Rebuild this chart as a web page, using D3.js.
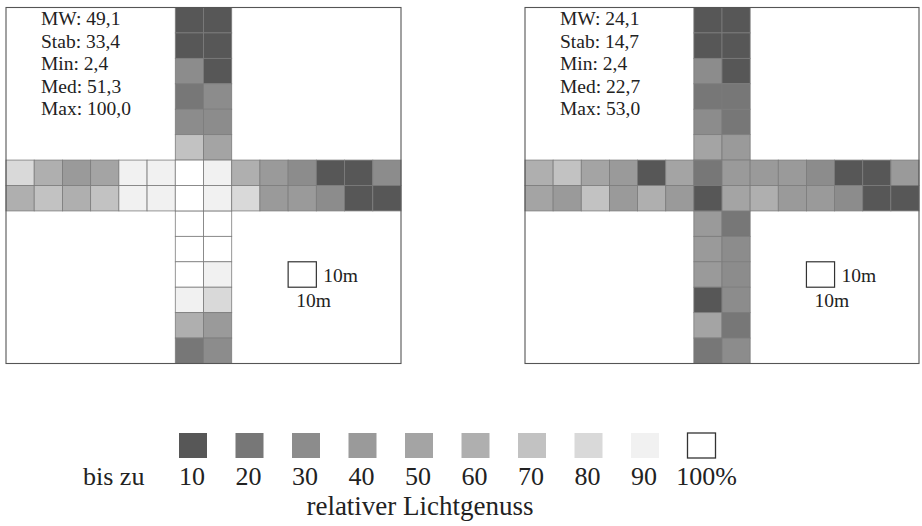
<!DOCTYPE html>
<html><head><meta charset="utf-8">
<script src="https://cdn.jsdelivr.net/npm/d3@7"></script>
<style>
body{margin:0;background:#fff}
svg{display:block}
</style>
</head><body>
<svg id="chart" width="922" height="526"></svg>
<script>
// ---------- data ----------
// rows of the vertical strip (row index in the 14x14 grid), the two middle rows belong to the horizontal strip
const verticalRows = [0, 1, 2, 3, 4, 5, 8, 9, 10, 11, 12, 13];
const stripIndex = [6, 7];
const gridIndex = [0, 1, 2, 3, 4, 5, 6, 7, 8, 9, 10, 11, 12, 13];

// relative light (%) – left plot: vertical strip [column 6, column 7]
const leftVertical = [
  [5, 6], [7, 4], [27, 8], [18, 21], [22, 29], [63, 48],
  [97, 95], [98, 96], [93, 89], [88, 76], [58, 33], [17, 26]
];
// left plot: horizontal strip, two rows of 14 cells
const leftHorizontal = [
  [74, 52, 35, 48, 85, 86, 95, 87, 55, 36, 24, 7, 5, 27],
  [58, 61, 56, 64, 87, 84, 97, 86, 73, 31, 38, 26, 6, 3]
];

// right plot
const rightVertical = [
  [5, 6], [4, 7], [24, 8], [17, 19], [28, 16], [47, 38],
  [36, 18], [39, 27], [37, 29], [6, 28], [46, 19], [16, 25]
];
const rightHorizontal = [
  [58, 64, 46, 36, 6, 44, 18, 33, 38, 35, 27, 8, 9, 36],
  [45, 38, 66, 34, 56, 37, 5, 43, 51, 32, 39, 27, 7, 4]
];

const statLabels = ["MW", "Stab", "Min", "Med", "Max"];
const leftStats = ["49,1", "33,4", "2,4", "51,3", "100,0"];
const rightStats = ["24,1", "14,7", "2,4", "22,7", "53,0"];

const legendThresholds = [10, 20, 30, 40, 50, 60, 70, 80, 90];
const legendLabels = ["10", "20", "30", "40", "50", "60", "70", "80", "90", "100%"];
const legendColors = ["#575757", "#777777", "#8c8c8c", "#9a9a9a", "#a4a4a4",
                      "#afafaf", "#c2c2c2", "#d9d9d9", "#f1f1f1", "#ffffff"];

// ---------- drawing ----------
const FONT = "'Liberation Serif', 'DejaVu Serif', 'Times New Roman', Times, serif";
const svg = d3.select("#chart").attr("font-family", FONT);
const color = d3.scaleThreshold().domain(legendThresholds).range(legendColors);

const panels = [
  {x0: 6, x1: 401, vertical: leftVertical, horizontal: leftHorizontal, stats: leftStats, tx: 41},
  {x0: 525, x1: 919, vertical: rightVertical, horizontal: rightHorizontal, stats: rightStats, tx: 560}
];
const y0 = 7.5, y1 = 363.5;
const cellStroke = "#7c7c7c";
const textFill = "#222";

panels.forEach(p => {
  const g = svg.append("g");
  const x = d3.scaleBand().domain(gridIndex).range([p.x0, p.x1]);
  const y = d3.scaleBand().domain(gridIndex).range([y0, y1]);

  g.append("rect").attr("x", p.x0).attr("y", y0)
    .attr("width", p.x1 - p.x0).attr("height", y1 - y0)
    .attr("fill", "#fff");

  const vCells = [];
  p.vertical.forEach((pair, i) => pair.forEach((v, j) =>
    vCells.push({row: verticalRows[i], col: stripIndex[j], v})));
  const hCells = [];
  p.horizontal.forEach((rowVals, i) => rowVals.forEach((v, j) =>
    hCells.push({row: stripIndex[i], col: gridIndex[j], v})));

  g.selectAll("rect.cell").data(vCells.concat(hCells)).join("rect")
    .attr("class", "cell")
    .attr("x", d => x(d.col)).attr("y", d => y(d.row))
    .attr("width", x.bandwidth()).attr("height", y.bandwidth())
    .attr("fill", d => color(d.v))
    .attr("stroke", cellStroke).attr("stroke-width", 0.8);

  g.append("rect").attr("x", p.x0).attr("y", y0)
    .attr("width", p.x1 - p.x0).attr("height", y1 - y0)
    .attr("fill", "none").attr("stroke", "#555").attr("stroke-width", 1.1);

  g.selectAll("text.stat").data(statLabels).join("text")
    .attr("class", "stat")
    .attr("x", p.tx).attr("y", (d, i) => 25 + i * 22.6)
    .attr("font-size", 19.5).attr("fill", textFill)
    .text((d, i) => d + ": " + p.stats[i]);

  g.append("rect").attr("x", x(10)).attr("y", y(10))
    .attr("width", x.bandwidth()).attr("height", y.bandwidth())
    .attr("fill", "#fff").attr("stroke", "#333").attr("stroke-width", 1.2);
  g.append("text").attr("x", x(11) + 7).attr("y", y(10) + 20.5)
    .attr("font-size", 19.5).attr("fill", textFill).text("10m");
  g.append("text").attr("x", x(10) + 8).attr("y", y(11) + 20)
    .attr("font-size", 19.5).attr("fill", textFill).text("10m");
});

// ---------- legend ----------
const lx = d3.scalePoint().domain(legendLabels).range([179, 687.5]);
const sqW = 28, sqH = 25, sqY = 433;
const lg = svg.append("g");
lg.selectAll("rect").data(legendLabels).join("rect")
  .attr("x", d => lx(d)).attr("y", sqY)
  .attr("width", sqW).attr("height", sqH)
  .attr("fill", (d, i) => legendColors[i])
  .attr("stroke", (d, i) => i === legendLabels.length - 1 ? "#333" : "none")
  .attr("stroke-width", 1.3);
lg.selectAll("text.lab").data(legendLabels).join("text")
  .attr("class", "lab")
  .attr("x", (d, i) => lx(d) + sqW / 2 + (i === legendLabels.length - 1 ? 5 : -1))
  .attr("y", 485)
  .attr("text-anchor", "middle")
  .attr("font-size", 26).attr("fill", textFill)
  .text(d => d);
lg.append("text").attr("x", 83).attr("y", 485).attr("font-size", 26)
  .attr("fill", textFill).text("bis zu");
lg.append("text").attr("x", 420).attr("y", 515).attr("text-anchor", "middle")
  .attr("font-size", 27).attr("fill", textFill).text("relativer Lichtgenuss");
</script>
</body></html>
